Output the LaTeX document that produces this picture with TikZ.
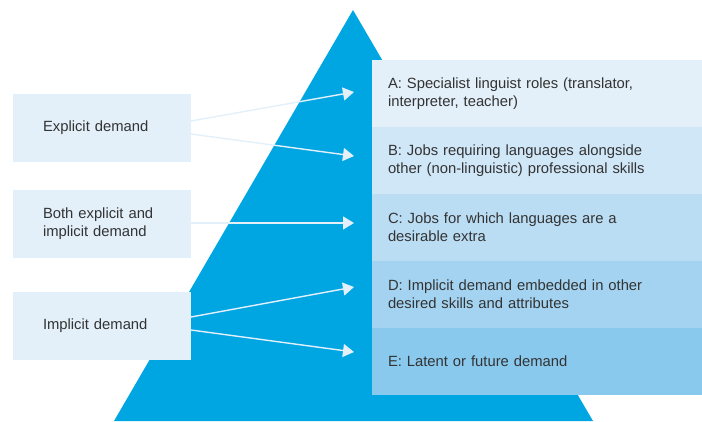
\documentclass[tikz,border=0pt]{standalone}
\usepackage{fontspec}
\setmainfont{Liberation Sans}
\usetikzlibrary{arrows.meta,positioning}
\definecolor{pyramid}{HTML}{00A6E2}
\definecolor{bandA}{HTML}{E3F0FA}
\definecolor{bandB}{HTML}{D0E7F8}
\definecolor{bandC}{HTML}{BADDF4}
\definecolor{bandD}{HTML}{A3D3F0}
\definecolor{bandE}{HTML}{8AC9EE}
\definecolor{inktext}{HTML}{333333}
\tikzset{
  band/.style={minimum height=67pt, text width=298pt, inner xsep=16pt, inner ysep=0pt, outer sep=0pt, align=left},
  demand/.style={fill=bandA, anchor=north west, minimum height=68pt, text width=118pt, inner xsep=30pt, inner ysep=0pt, outer sep=0pt, align=left},
  link/.style={->, draw=bandA, line width=1.4pt}
}
\begin{document}
\begin{tikzpicture}[x=1pt, y=-1pt, >={Triangle[length=11pt,width=13pt]}, font=\fontsize{14.8}{18.3}\selectfont, text=inktext]
    \useasboundingbox (0,0) rectangle (702,421);
    \fill[pyramid] (114,421) -- (353,10) -- (593,421) -- cycle;
    % levels of demand
    \node[band, fill=bandA, anchor=north west] (A) at (372,60) {A: Specialist linguist roles (translator,\\interpreter, teacher)};
    \node[band, fill=bandB, below=0pt of A] (B) {B: Jobs requiring languages alongside\\other (non-linguistic) professional skills};
    \node[band, fill=bandC, below=0pt of B] (C) {C: Jobs for which languages are a\\desirable extra};
    \node[band, fill=bandD, below=0pt of C] (D) {D: Implicit demand embedded in other\\desired skills and attributes};
    \node[band, fill=bandE, below=0pt of D] (E) {E: Latent or future demand};
    % kinds of demand
    \node[demand] (explicit) at (13,94) {Explicit demand};
    \node[demand] (both) at (13,190) {Both explicit and\\implicit demand};
    \node[demand] (implicit) at (13,292) {Implicit demand};
    \foreach \n/\y in {A/92,B/156,C/223,D/287,E/352}
        \coordinate (tip\n) at (354,\y);
    \draw[link] ([yshift=7pt]explicit.east) -- (tipA);
    \draw[link] ([yshift=-6pt]explicit.east) -- (tipB);
    \draw[link] ([yshift=1pt]both.east) -- (tipC);
    \draw[link] ([yshift=9pt]implicit.east) -- (tipD);
    \draw[link] ([yshift=-4pt]implicit.east) -- (tipE);
\end{tikzpicture}
\end{document}
